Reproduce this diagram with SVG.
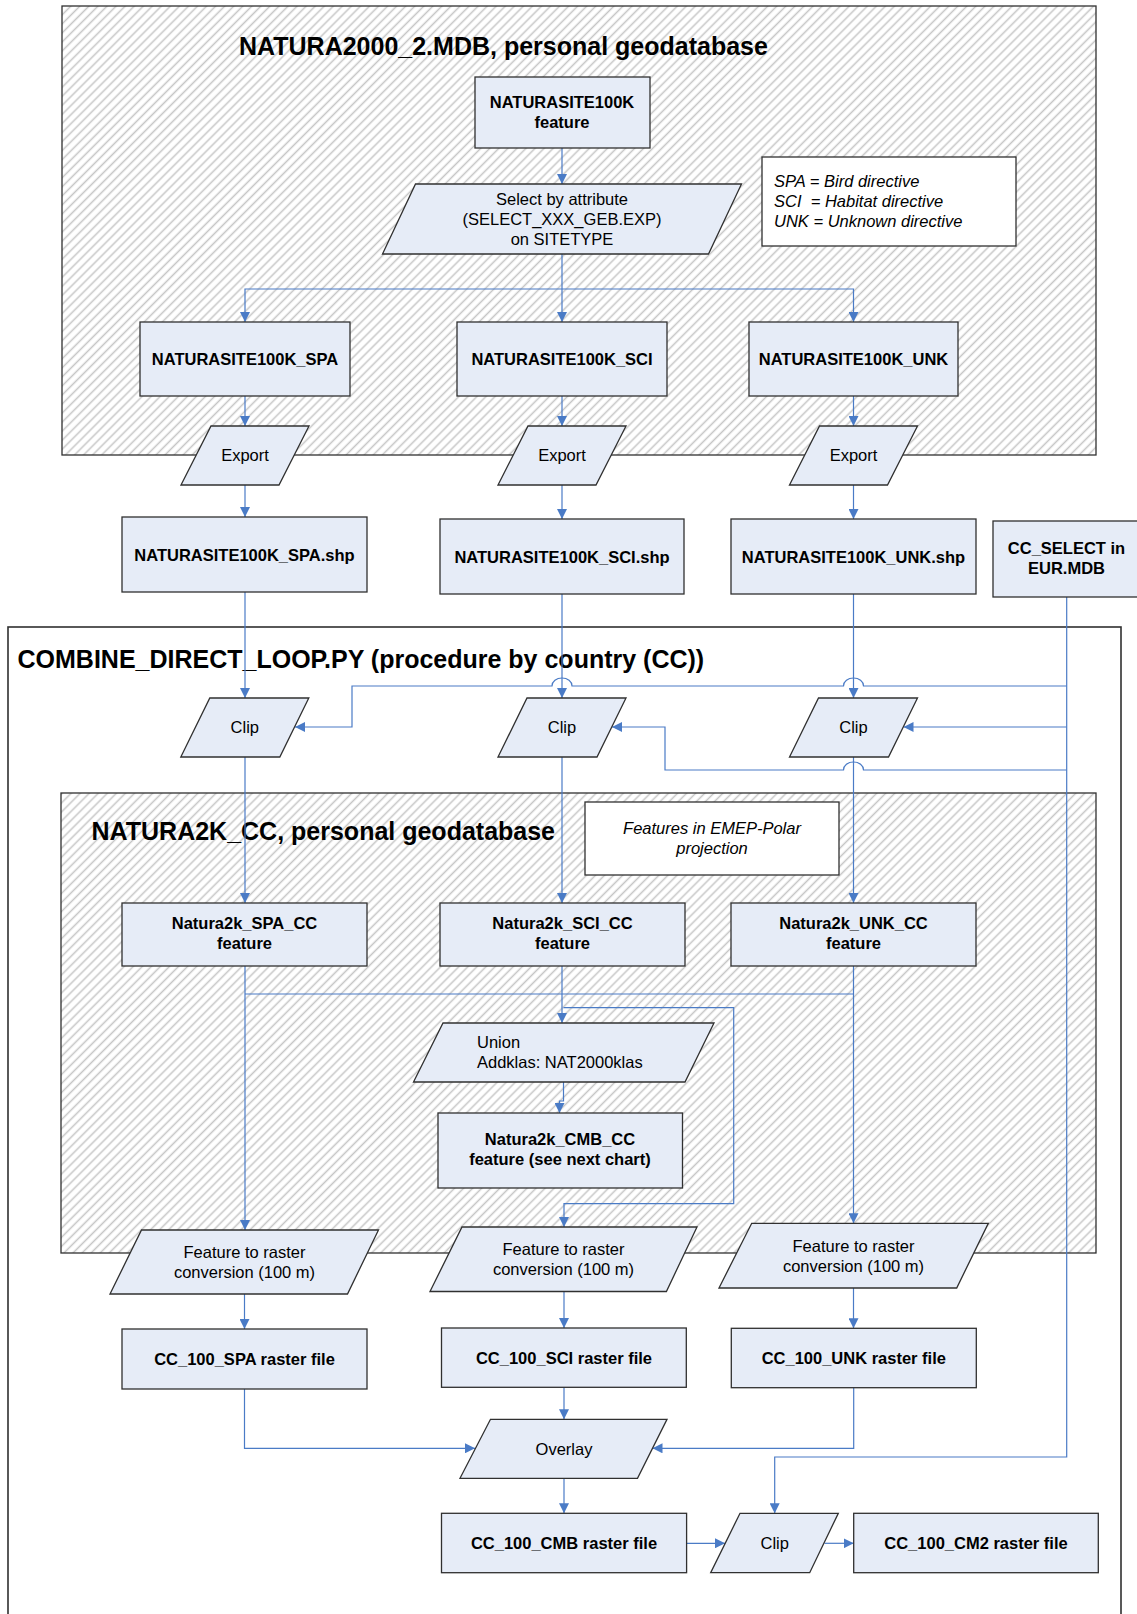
<svg xmlns="http://www.w3.org/2000/svg" width="1137" height="1614" viewBox="0 0 1137 1614">
<defs>
<pattern id="hatch" width="6.4" height="10" patternUnits="userSpaceOnUse" patternTransform="rotate(45)">
<rect width="6.4" height="10" fill="#fff"/>
<line x1="3.2" y1="0" x2="3.2" y2="10" stroke="#C6C6C6" stroke-width="1.5"/>
</pattern>
<marker id="arr" markerUnits="userSpaceOnUse" markerWidth="10" markerHeight="10" refX="10" refY="5" orient="auto">
<path d="M0,0 L10,5 L0,10 z" fill="#4A7BC6"/>
</marker>
<style>
.box{fill:#E6ECF7;stroke:#303030;stroke-width:1.3}
.note{fill:#fff;stroke:#303030;stroke-width:1.3}
.cont{fill:url(#hatch);stroke:#303030;stroke-width:1.3}
.outer{fill:#fff;stroke:#303030;stroke-width:1.6}
.c{fill:none;stroke:#4A7BC6;stroke-width:1.2}
.a{marker-end:url(#arr)}
text{font-family:"Liberation Sans",Arial,sans-serif;fill:#000}
.b{font-weight:bold;font-size:16.5px;text-anchor:middle}
.r{font-size:16.5px;text-anchor:middle}
.l{font-size:16.5px;text-anchor:start}
.i{font-style:italic;font-size:16.5px}
.t{font-weight:bold;font-size:25px}
</style>
</defs>

<g id="containers">
<rect id="combine-loop" class="outer" x="8" y="627" width="1113" height="1000"/>
<rect id="natura2000-mdb" class="cont" x="62" y="6" width="1034" height="449"/>
<rect id="natura2k-cc" class="cont" x="61" y="793" width="1035" height="460"/>
<text class="t" x="239" y="55">NATURA2000_2.MDB, personal geodatabase</text>
<text class="t" x="17.5" y="668">COMBINE_DIRECT_LOOP.PY (procedure by country (CC))</text>
<text class="t" x="91.5" y="840">NATURA2K_CC, personal geodatabase</text>
</g>

<g id="connectors">
<path class="c a" d="M562,148 V184"/>
<path class="c a" d="M562,254 V322"/>
<path class="c a" d="M562,289 H245 V322"/>
<path class="c a" d="M562,289 H853.5 V322"/>
<path class="c a" d="M245,396 V426"/>
<path class="c a" d="M562,396 V426"/>
<path class="c a" d="M853.5,396 V426"/>
<path class="c a" d="M245,485 V517"/>
<path class="c a" d="M562,485 V519"/>
<path class="c a" d="M853.5,485 V519"/>
<path class="c a" d="M245,592 V698"/>
<path class="c a" d="M562,594 V698"/>
<path class="c a" d="M853.5,594 V698"/>
<path class="c a" d="M1066.7,597 V1457 H774.7 V1513.3"/>
<path class="c a" d="M1066.7,686 H863.5 A10,8 0 0 0 843.5,686 H572 A10,8 0 0 0 552,686 H352 V727 H295"/>
<path class="c a" d="M1066.7,727 H903.5"/>
<path class="c a" d="M1066.7,770 H863.5 A10,8 0 0 0 843.5,770 H665 V727 H612"/>
<path class="c a" d="M245,757 V903"/>
<path class="c a" d="M562,757 V903"/>
<path class="c a" d="M853.5,757 V903"/>
<path class="c a" d="M245,966 V1230"/>
<path class="c" d="M245,994 H853.5"/>
<path class="c a" d="M853.5,966 V1223.3"/>
<path class="c a" d="M562,966 V1023"/>
<path class="c a" d="M563.5,1007.7 H733.7 V1203.7 H564 V1227"/>
<path class="c a" d="M563.5,1082 V1101 H559.5 V1113"/>
<path class="c a" d="M244.5,1294 V1329"/>
<path class="c a" d="M564,1291.5 V1328"/>
<path class="c a" d="M853.5,1288 V1328.3"/>
<path class="c a" d="M244.5,1389 V1448.3 H475"/>
<path class="c a" d="M564,1387.3 V1419.3"/>
<path class="c a" d="M853.7,1387.7 V1448.3 H652.5"/>
<path class="c a" d="M564,1478.3 V1513.3"/>
<path class="c a" d="M686.6,1543.3 H725"/>
<path class="c a" d="M824.5,1543.3 H853.7"/>
</g>

<g id="naturasite100k">
<rect class="box" x="475" y="77" width="175" height="71"/>
<text class="b" x="562" y="107.5">NATURASITE100K</text>
<text class="b" x="562" y="127.5">feature</text>
</g>
<g id="select-by-attribute">
<polygon class="box" points="415.5,184 741.5,184 708.5,254 382.5,254"/>
<text class="r" x="562" y="204.8">Select by attribute</text>
<text class="r" x="562" y="225">(SELECT_XXX_GEB.EXP)</text>
<text class="r" x="562" y="244.8">on SITETYPE</text>
</g>
<g id="legend">
<rect class="note" x="762" y="157" width="254" height="89"/>
<text class="i" x="774" y="186.5">SPA = Bird directive</text>
<text class="i" x="774" y="206.5" style="white-space:pre">SCI  = Habitat directive</text>
<text class="i" x="774" y="226.5">UNK = Unknown directive</text>
</g>

<g id="natura-spa">
<rect class="box" x="140" y="322" width="210" height="74"/>
<text class="b" x="245" y="365">NATURASITE100K_SPA</text>
</g>
<g id="natura-sci">
<rect class="box" x="457" y="322" width="210" height="74"/>
<text class="b" x="562" y="365">NATURASITE100K_SCI</text>
</g>
<g id="natura-unk">
<rect class="box" x="749" y="322" width="209" height="74"/>
<text class="b" x="853.5" y="365">NATURASITE100K_UNK</text>
</g>

<g id="export-spa">
<polygon class="box" points="211,426 309,426 279,485 181,485"/>
<text class="r" x="245" y="461">Export</text>
</g>
<g id="export-sci">
<polygon class="box" points="528,426 626,426 596,485 498,485"/>
<text class="r" x="562" y="461">Export</text>
</g>
<g id="export-unk">
<polygon class="box" points="819.5,426 917.5,426 887.5,485 789.5,485"/>
<text class="r" x="853.5" y="461">Export</text>
</g>

<g id="shp-spa">
<rect class="box" x="122" y="517" width="245" height="75"/>
<text class="b" x="244.5" y="560.5">NATURASITE100K_SPA.shp</text>
</g>
<g id="shp-sci">
<rect class="box" x="440" y="519" width="244" height="75"/>
<text class="b" x="562" y="562.5">NATURASITE100K_SCI.shp</text>
</g>
<g id="shp-unk">
<rect class="box" x="731" y="519" width="245" height="75"/>
<text class="b" x="853.5" y="562.5">NATURASITE100K_UNK.shp</text>
</g>
<g id="cc-select">
<rect class="box" x="993" y="521" width="150" height="76"/>
<text class="b" x="1066.5" y="553.5">CC_SELECT in</text>
<text class="b" x="1066.5" y="574">EUR.MDB</text>
</g>

<g id="clip-spa">
<polygon class="box" points="209.8,698 308.8,698 279.8,757 180.8,757"/>
<text class="r" x="244.8" y="733">Clip</text>
</g>
<g id="clip-sci">
<polygon class="box" points="527,698 626,698 597,757 498,757"/>
<text class="r" x="562" y="733">Clip</text>
</g>
<g id="clip-unk">
<polygon class="box" points="818.5,698 917.5,698 888.5,757 789.5,757"/>
<text class="r" x="853.5" y="733">Clip</text>
</g>

<g id="emep-note">
<rect class="note" x="585" y="802" width="254" height="73"/>
<text class="i" x="712" y="834" text-anchor="middle">Features in EMEP-Polar</text>
<text class="i" x="712" y="854" text-anchor="middle">projection</text>
</g>

<g id="spa-cc">
<rect class="box" x="122" y="903" width="245" height="63"/>
<text class="b" x="244.5" y="929.3">Natura2k_SPA_CC</text>
<text class="b" x="244.5" y="949.3">feature</text>
</g>
<g id="sci-cc">
<rect class="box" x="440" y="903" width="245" height="63"/>
<text class="b" x="562.5" y="929.3">Natura2k_SCI_CC</text>
<text class="b" x="562.5" y="949.3">feature</text>
</g>
<g id="unk-cc">
<rect class="box" x="731" y="903" width="245" height="63"/>
<text class="b" x="853.5" y="929.3">Natura2k_UNK_CC</text>
<text class="b" x="853.5" y="949.3">feature</text>
</g>

<g id="union">
<polygon class="box" points="443,1023 714,1023 685,1082 413.5,1082"/>
<text class="l" x="477" y="1047.7">Union</text>
<text class="l" x="477" y="1067.7">Addklas: NAT2000klas</text>
</g>
<g id="cmb-cc">
<rect class="box" x="438" y="1113" width="244.5" height="75"/>
<text class="b" x="560" y="1145.3">Natura2k_CMB_CC</text>
<text class="b" x="560" y="1165.3">feature (see next chart)</text>
</g>

<g id="ftr-spa">
<polygon class="box" points="141.5,1230 378.5,1230 347.5,1294 110,1294"/>
<text class="r" x="244.5" y="1258.3">Feature to raster</text>
<text class="r" x="244.5" y="1277.7">conversion (100 m)</text>
</g>
<g id="ftr-sci">
<polygon class="box" points="462,1227 697,1227 666.4,1291.5 430,1291.5"/>
<text class="r" x="563.5" y="1255.3">Feature to raster</text>
<text class="r" x="563.5" y="1275.3">conversion (100 m)</text>
</g>
<g id="ftr-unk">
<polygon class="box" points="751.7,1223.3 988.3,1223.3 956.7,1288 719,1288"/>
<text class="r" x="853.5" y="1251.7">Feature to raster</text>
<text class="r" x="853.5" y="1271.7">conversion (100 m)</text>
</g>

<g id="raster-spa">
<rect class="box" x="122" y="1329" width="245" height="60"/>
<text class="b" x="244.5" y="1365">CC_100_SPA raster file</text>
</g>
<g id="raster-sci">
<rect class="box" x="441.5" y="1328" width="244.8" height="59.3"/>
<text class="b" x="564" y="1363.5">CC_100_SCI raster file</text>
</g>
<g id="raster-unk">
<rect class="box" x="731.3" y="1328.3" width="245" height="59.4"/>
<text class="b" x="853.8" y="1364">CC_100_UNK raster file</text>
</g>

<g id="overlay">
<polygon class="box" points="490.5,1419.3 667,1419.3 637.5,1478.3 460,1478.3"/>
<text class="r" x="564" y="1455">Overlay</text>
</g>
<g id="raster-cmb">
<rect class="box" x="441.5" y="1513.3" width="245.1" height="59.4"/>
<text class="b" x="564" y="1549">CC_100_CMB raster file</text>
</g>
<g id="clip-final">
<polygon class="box" points="740,1513.3 838.3,1513.3 809.7,1572.7 710.7,1572.7"/>
<text class="r" x="774.7" y="1549">Clip</text>
</g>
<g id="raster-cm2">
<rect class="box" x="853.7" y="1513.3" width="244.6" height="59.4"/>
<text class="b" x="976" y="1549">CC_100_CM2 raster file</text>
</g>
</svg>
